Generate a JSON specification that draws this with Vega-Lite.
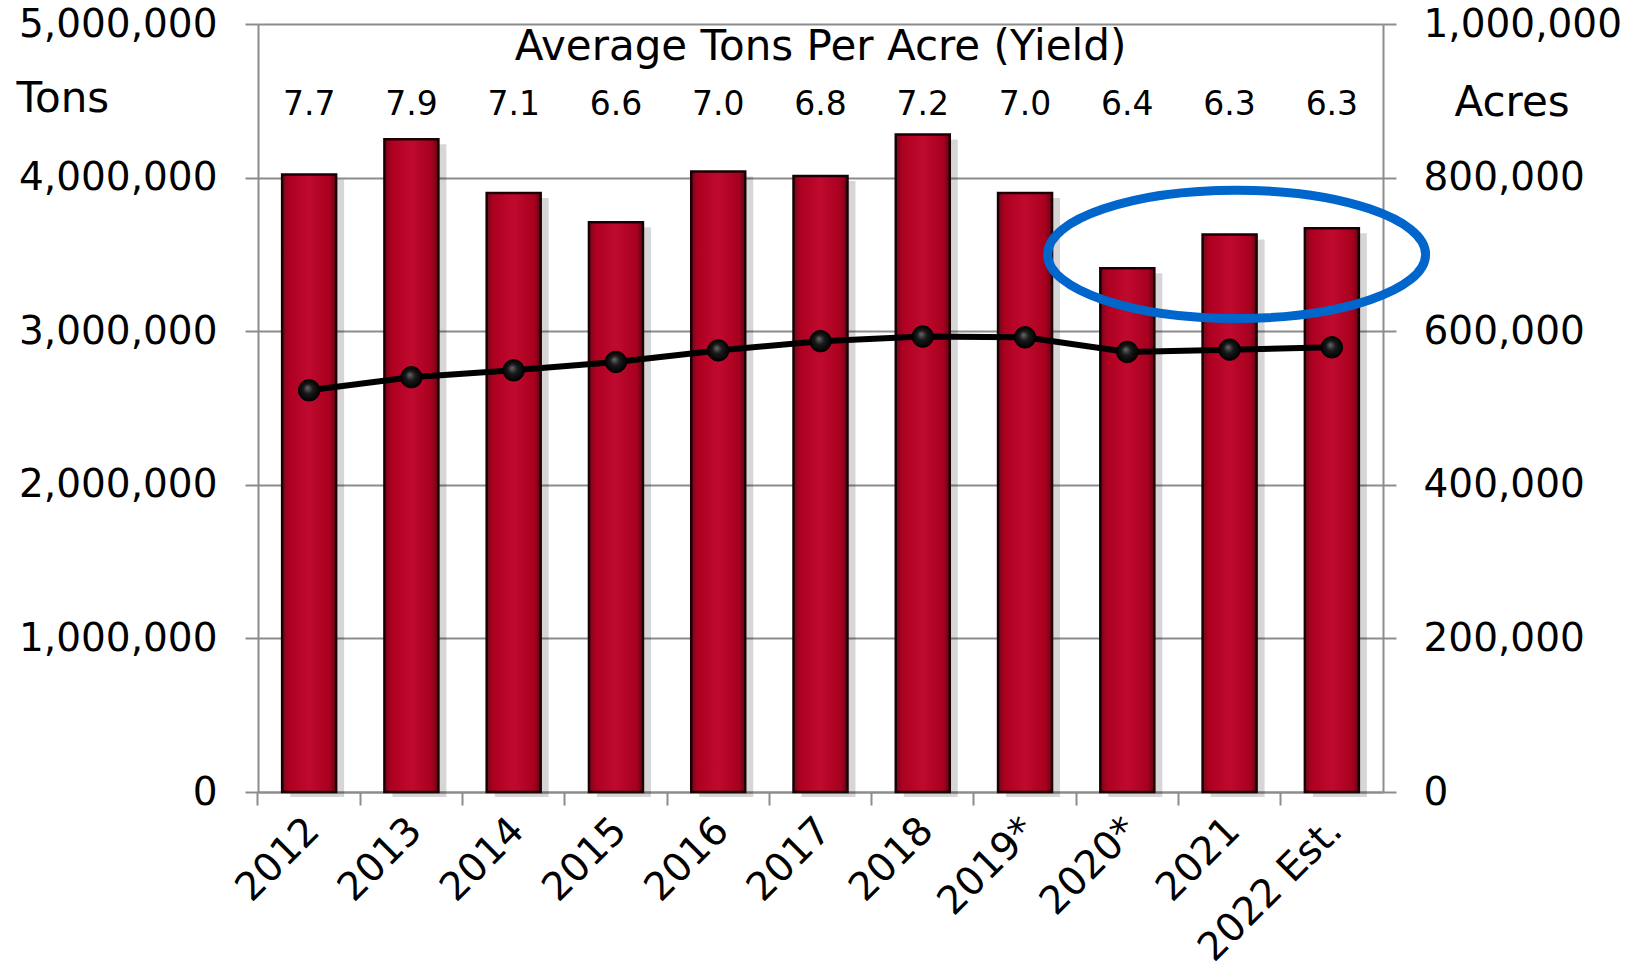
{
  "$schema": "https://vega.github.io/schema/vega-lite/v6.json",
  "width": 1125,
  "height": 768,
  "autosize": {"type": "none"},
  "padding": {"left": 258, "top": 24, "right": 254, "bottom": 172},
  "background": "white",
  "config": {
    "font": "DejaVu Sans",
    "view": {"stroke": null},
    "axisX": {"labelAngle": -45, "labelAlign": "right", "labelBaseline": "middle", "labelFontSize": 39, "labelColor": "black", "labelPadding": 19, "bandPosition": -0.447, "labelOffset": 4, "labelLimit": 0, "tickSize": 13, "tickWidth": 2, "tickColor": "#8c8c8c", "domainColor": "#8c8c8c", "domainWidth": 2, "grid": false}
  },
  "title": {"text": "Average Tons Per Acre (Yield)", "fontSize": 42, "fontWeight": "normal", "color": "black", "anchor": "middle", "frame": "group", "offset": -84, "baseline": "middle", "font": "DejaVu Sans"},
  "data": {"values": [
    {"year": "2012", "tons": 4020000, "acres": 523000, "yield": "7.7"},
    {"year": "2013", "tons": 4250000, "acres": 540000, "yield": "7.9"},
    {"year": "2014", "tons": 3900000, "acres": 549000, "yield": "7.1"},
    {"year": "2015", "tons": 3710000, "acres": 560000, "yield": "6.6"},
    {"year": "2016", "tons": 4040000, "acres": 575000, "yield": "7.0"},
    {"year": "2017", "tons": 4010000, "acres": 587000, "yield": "6.8"},
    {"year": "2018", "tons": 4280000, "acres": 593000, "yield": "7.2"},
    {"year": "2019*", "tons": 3900000, "acres": 592000, "yield": "7.0"},
    {"year": "2020*", "tons": 3410000, "acres": 573000, "yield": "6.4"},
    {"year": "2021", "tons": 3630000, "acres": 576000, "yield": "6.3"},
    {"year": "2022 Est.", "tons": 3670000, "acres": 579000, "yield": "6.3"}
  ]},
  "layer": [
    {
      "mark": {"type": "bar", "xOffset": 8, "yOffset": 5, "color": "#000000", "opacity": 0.16},
      "encoding": {
        "x": {"field": "year", "type": "nominal", "sort": null, "title": null,
          "scale": {"domain": ["2012","2013","2014","2015","2016","2017","2018","2019*","2020*","2021","2022 Est."], "paddingInner": 0.472, "paddingOuter": 0.236}},
        "y": {"field": "tons", "type": "quantitative",
          "scale": {"domain": [0, 5000000], "nice": false},
          "axis": {"orient": "left", "title": "Tons", "titleAngle": 0, "titleAlign": "left", "titleBaseline": "middle", "titleX": -242, "titleY": 74, "titleFontSize": 42, "titleFontWeight": "normal", "titleColor": "black",
            "values": [0, 1000000, 2000000, 3000000, 4000000, 5000000], "format": ",d", "labelFontSize": 39, "labelLimit": 0, "labelColor": "black", "labelPadding": 28, "tickSize": 13, "tickWidth": 2, "tickColor": "#8c8c8c", "domainColor": "#8c8c8c", "domainWidth": 2, "grid": true, "gridColor": "#8c8c8c", "gridWidth": 2}}
      }
    },
    {
      "mark": {"type": "bar", "stroke": "#1a0005", "strokeWidth": 2.5,
        "fill": {"gradient": "linear", "x1": 0, "x2": 1, "y1": 0, "y2": 0, "stops": [
          {"offset": 0, "color": "#6e0a1a"},
          {"offset": 0.12, "color": "#ad0020"},
          {"offset": 0.5, "color": "#bf0a2e"},
          {"offset": 0.88, "color": "#a8001f"},
          {"offset": 1, "color": "#600512"}]}},
      "encoding": {
        "x": {"field": "year", "type": "nominal", "sort": null, "title": null},
        "y": {"field": "tons", "type": "quantitative", "scale": {"domain": [0, 5000000], "nice": false}, "axis": null}
      }
    },
    {
      "mark": {"type": "text", "fontSize": 33, "color": "black", "baseline": "middle", "align": "center"},
      "encoding": {
        "x": {"field": "year", "type": "nominal", "sort": null, "title": null},
        "y": {"datum": 4470000, "type": "quantitative", "scale": {"domain": [0, 5000000], "nice": false}, "axis": null},
        "text": {"field": "yield"}
      }
    },
    {
      "transform": [{"filter": "datum.year === '2021'"}],
      "mark": {"type": "point", "shape": "M -1 0 A 1 0.339 0 1 0 1 0 A 1 0.339 0 1 0 -1 0 Z", "size": 142884, "filled": false, "stroke": "#0066cc", "strokeWidth": 9, "opacity": 1, "xOffset": 7},
      "encoding": {
        "x": {"field": "year", "type": "nominal", "sort": null, "title": null},
        "y": {"datum": 3500000, "type": "quantitative", "scale": {"domain": [0, 5000000], "nice": false}, "axis": null}
      }
    },
    {
      "mark": {"type": "line", "color": "black", "strokeWidth": 6},
      "encoding": {
        "x": {"field": "year", "type": "nominal", "sort": null, "title": null},
        "y": {"field": "acres", "type": "quantitative",
          "scale": {"domain": [0, 1000000], "nice": false},
          "axis": {"orient": "right", "title": "Acres", "titleAngle": 0, "titleAlign": "left", "titleBaseline": "middle", "titleX": 71, "titleY": 78, "titleFontSize": 42, "titleFontWeight": "normal", "titleColor": "black",
            "values": [0, 200000, 400000, 600000, 800000, 1000000], "format": ",d", "labelFontSize": 39, "labelLimit": 0, "labelColor": "black", "labelPadding": 27, "tickSize": 13, "tickWidth": 2, "tickColor": "#8c8c8c", "domainColor": "#8c8c8c", "domainWidth": 2, "grid": false}}
      }
    },
    {
      "mark": {"type": "point", "filled": true, "size": 460, "opacity": 1, "stroke": "#000000", "strokeWidth": 1,
        "fill": {"gradient": "radial", "x1": 0.42, "y1": 0.38, "r1": 0, "x2": 0.5, "y2": 0.5, "r2": 0.5, "stops": [
          {"offset": 0, "color": "#6a6a6a"},
          {"offset": 0.45, "color": "#1a1a1a"},
          {"offset": 1, "color": "#000000"}]}},
      "encoding": {
        "x": {"field": "year", "type": "nominal", "sort": null, "title": null},
        "y": {"field": "acres", "type": "quantitative", "scale": {"domain": [0, 1000000], "nice": false}, "axis": null}
      }
    }
  ],
  "resolve": {"scale": {"y": "independent"}}
}
